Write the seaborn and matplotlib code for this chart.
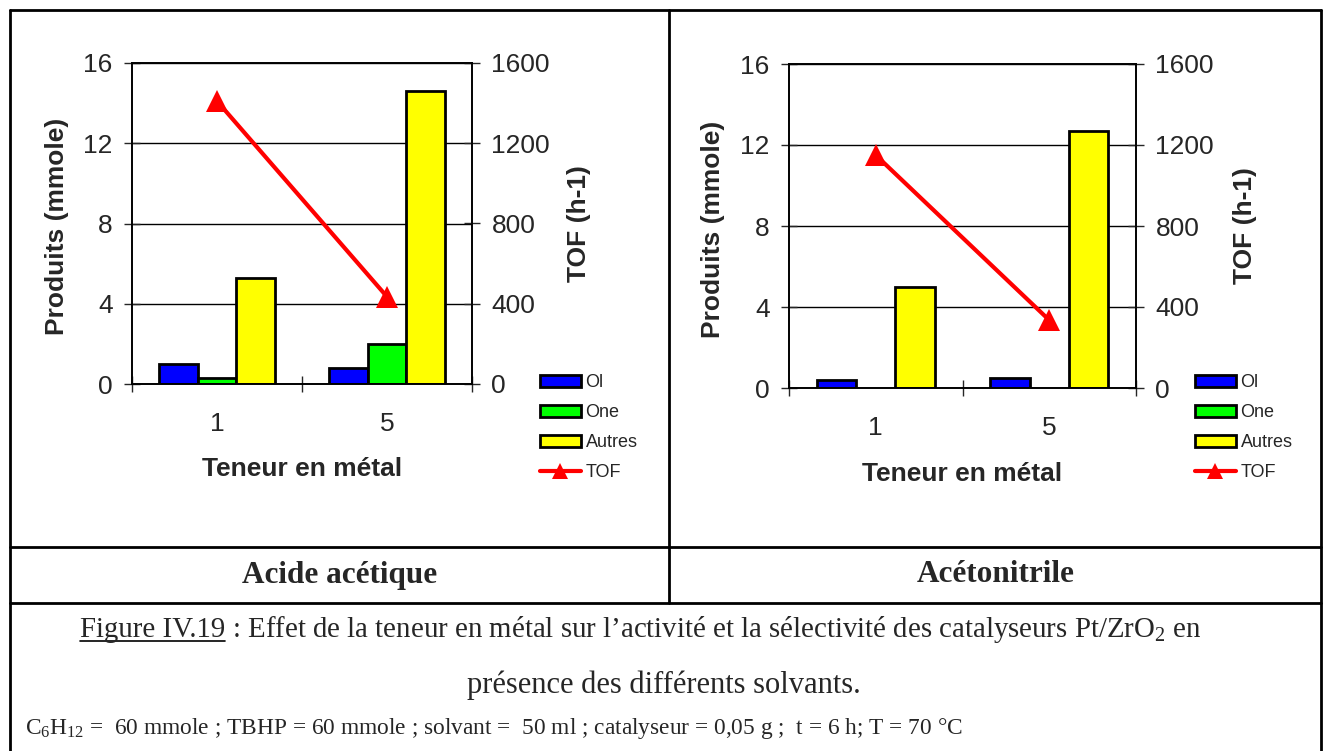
import numpy as np
import pandas as pd
import matplotlib
matplotlib.use("Agg")
import matplotlib.pyplot as plt
import seaborn as sns
from matplotlib.patches import Patch
from matplotlib.lines import Line2D

# data
teneur = ["1", "5"]
series = ["Ol", "One", "Autres"]
acide_ol = [1.0, 0.8]
acide_one = [0.3, 2.0]
acide_autres = [5.3, 14.6]
acide_tof = [1410, 435]
aceto_ol = [0.4, 0.5]
aceto_one = [0.0, 0.0]
aceto_autres = [5.0, 12.7]
aceto_tof = [1150, 335]

couleurs = {"Ol": "#0000FF", "One": "#00FF00", "Autres": "#FFFF00"}

sns.set_style("white")
plt.rcParams["font.family"] = ["Liberation Sans", "DejaVu Sans"]
plt.rcParams["mathtext.fontset"] = "custom"
plt.rcParams["mathtext.rm"] = "Liberation Serif"
plt.rcParams["mathtext.it"] = "Liberation Serif:italic"

W, H = 1323, 751
fig = plt.figure(figsize=(W / 100, H / 100), dpi=100)


def fx(px):
    return px / W


def fy(py):
    return 1 - py / H


def tableau(ol, one, autres):
    rows = []
    for i, t in enumerate(teneur):
        rows.append((t, "Ol", ol[i]))
        rows.append((t, "One", one[i]))
        rows.append((t, "Autres", autres[i]))
    return pd.DataFrame(rows, columns=["teneur", "produit", "mmole"])


def graphe(box, ol, one, autres, tof, leg_xy):
    x0, y0, x1, y1 = box
    ax = fig.add_axes([fx(x0), fy(y1), fx(x1) - fx(x0), (y1 - y0) / H])
    df = tableau(ol, one, autres)
    sns.barplot(data=df, x="teneur", y="mmole", hue="produit", order=teneur,
                hue_order=series, palette=couleurs, width=0.68, gap=0,
                edgecolor="black", linewidth=2, saturation=1, errorbar=None,
                legend=False, ax=ax)
    for p in ax.patches:
        if p.get_height() == 0:
            p.set_linewidth(0)
    ax.set_xlim(-0.5, 1.5)
    ax.set_ylim(0, 16)
    ax.set_yticks([0, 4, 8, 12, 16])
    ax.yaxis.grid(True, color="black", linewidth=1)
    ax.set_axisbelow(True)
    for s in ax.spines.values():
        s.set_color("black")
        s.set_linewidth(1.2)
    ax.tick_params(axis="y", direction="inout", length=12, width=1,
                   labelsize=19, pad=8, left=True)
    ax.tick_params(axis="x", which="major", length=0, labelsize=19, pad=20)
    ax.set_xticks([-0.5, 0.5, 1.5], minor=True)
    ax.tick_params(axis="x", which="minor", direction="inout", length=12,
                   width=1, bottom=True)
    ax.set_xlabel("Teneur en métal", fontsize=19, fontweight="bold")
    ax.set_ylabel("Produits (mmole)", fontsize=19, fontweight="bold")
    ax.xaxis.set_label_coords(0.5, -0.265)
    ax.xaxis.label.set_va("center")
    ax.yaxis.set_label_coords(-0.22, 0.49)
    ax.yaxis.label.set_va("center")

    ax2 = ax.twinx()
    sns.lineplot(x=np.arange(len(teneur)), y=tof, color="#FF0000",
                 linewidth=3, marker="^", markersize=16, markeredgewidth=0,
                 ax=ax2)
    ax2.set_ylim(0, 1600)
    ax2.set_yticks([0, 400, 800, 1200, 1600])
    ax2.tick_params(axis="y", direction="inout", length=12, width=1,
                    labelsize=19, pad=8, right=True)
    ax2.set_ylabel("TOF (h-1)", fontsize=19, fontweight="bold")
    ax2.yaxis.set_label_coords(1.315, 0.5)
    ax2.yaxis.label.set_va("center")
    for s in ax2.spines.values():
        s.set_color("black")
        s.set_linewidth(1.2)

    handles = [Patch(facecolor=couleurs[s], edgecolor="black", linewidth=2)
               for s in series]
    handles.append(Line2D([], [], color="#FF0000", linewidth=3, marker="^",
                          markersize=11, markeredgewidth=0))
    fig.legend(handles, series + ["TOF"], loc="upper left",
               bbox_to_anchor=(fx(leg_xy[0]), fy(leg_xy[1])),
               frameon=False, fontsize=13, handlelength=2.27,
               handleheight=0.65, handletextpad=0.25, labelspacing=0.72,
               borderpad=0, borderaxespad=0)


graphe((132, 63, 472, 384), acide_ol, acide_one, acide_autres, acide_tof,
       (540, 374))
graphe((789, 64, 1136, 388), aceto_ol, aceto_one, aceto_autres, aceto_tof,
       (1195, 374))

# table borders
def trait(x0, y0, x1, y1, lw=2):
    fig.add_artist(Line2D([fx(x0), fx(x1)], [fy(y0), fy(y1)], color="black",
                          linewidth=lw, transform=fig.transFigure))


trait(10, 10, 1321, 10)
trait(10, 10, 10, 751)
trait(1321, 10, 1321, 751)
trait(669, 10, 669, 603)
trait(10, 547, 1321, 547)
trait(10, 603, 1321, 603)

serif = ["Liberation Serif", "DejaVu Serif"]
fig.text(fx(340), fy(575), "Acide acétique", family=serif, fontsize=22.5,
         fontweight="bold", ha="center", va="center")
fig.text(fx(996), fy(575), "Acétonitrile", family=serif, fontsize=22.5,
         fontweight="bold", ha="center", va="center")

t1 = fig.text(fx(80), fy(637), "Figure IV.19", family=serif, fontsize=20.8,
              ha="left", va="baseline")
fig.canvas.draw()
bb = t1.get_window_extent(fig.canvas.get_renderer())
fig.text(bb.x1 / W, fy(637),
         " : Effet de la teneur en métal sur l’activité et la sélectivité "
         "des catalyseurs Pt/ZrO$_2$ en",
         family=serif, fontsize=20.8, ha="left", va="baseline")
fig.add_artist(Line2D([bb.x0 / W, bb.x1 / W], [fy(641), fy(641)],
                      color="black", linewidth=1.2, transform=fig.transFigure))
fig.text(fx(664), fy(693), "présence des différents solvants.", family=serif,
         fontsize=22, ha="center", va="baseline")
fig.text(fx(25), fy(734),
         "C$_6$H$_{12}$ =  60 mmole ; TBHP = 60 mmole ; solvant =  50 ml ; "
         "catalyseur = 0,05 g ;  t = 6 h; T = 70 °C",
         family=serif, fontsize=16.8, ha="left", va="baseline")

fig.savefig("out.png", dpi=100)
